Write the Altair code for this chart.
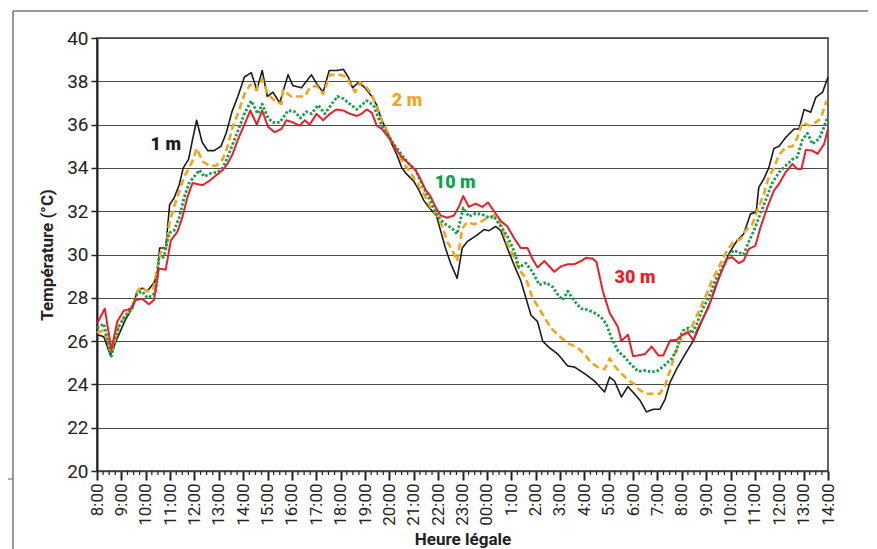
import altair as alt
import pandas as pd
import numpy as np

# hours since 8:00 (x), temperature in degC (y)
t_1m = [0.0, 0.28, 0.55, 0.82, 1.17, 1.44, 1.65, 1.86, 2.06, 2.34, 2.48, 2.57, 2.82, 2.98, 3.16, 3.37,
        3.54, 3.76, 3.92, 4.09, 4.31, 4.54, 4.81, 5.09, 5.30, 5.54, 5.78, 6.05, 6.33, 6.56, 6.78, 6.99,
        7.22, 7.50, 7.84, 8.04, 8.39, 8.80, 9.01, 9.28, 9.53, 9.83, 10.11, 10.31, 10.49, 10.73, 11.0,
        11.28, 11.48, 11.69, 11.9, 12.1, 12.31, 12.51, 12.72, 12.99, 13.2, 13.41, 13.68, 13.93, 14.1,
        14.3, 14.51, 14.78, 14.99, 15.2, 15.6, 15.88, 16.09, 16.36, 16.57, 16.84, 17.12, 17.39, 17.6,
        17.81, 18.08, 18.29, 18.56, 18.91, 19.32, 19.6, 20.01, 20.42, 20.83, 21.04, 21.24, 21.52, 21.79,
        22.07, 22.28, 22.55, 22.83, 23.1, 23.31, 23.52, 23.79, 24.14, 24.48, 24.89, 25.24, 25.58, 25.93,
        26.27, 26.54, 26.82, 27.05, 27.16, 27.37, 27.57, 27.78, 27.99, 28.26, 28.61, 28.81, 29.02, 29.29,
        29.5, 29.78, 30.0]
v_1m = [26.3, 26.2, 25.35, 26.1, 27.0, 27.5, 28.3, 28.45, 28.3, 28.7, 29.1, 30.3, 30.3, 32.3, 32.6, 33.2,
        34.0, 34.4, 35.3, 36.2, 35.2, 34.8, 34.8, 35.0, 35.6, 36.6, 37.3, 38.2, 38.4, 37.6, 38.5, 37.3,
        37.5, 37.0, 38.3, 37.8, 37.7, 38.3, 37.9, 37.5, 38.5, 38.5, 38.55, 38.2, 37.7, 37.95, 37.7,
        37.3, 36.9, 36.2, 35.7, 35.1, 34.6, 34.0, 33.7, 33.4, 33.0, 32.5, 32.1, 31.8, 31.1,
        30.3, 29.6, 28.9, 30.3, 30.6, 30.9, 31.15, 31.1, 31.3, 31.1, 30.3, 29.5, 28.8, 28.0,
        27.2, 26.9, 26.0, 25.7, 25.4, 24.85, 24.8, 24.5, 24.15, 23.65, 24.34, 24.15, 23.42, 23.9,
        23.55, 23.27, 22.73, 22.85, 22.85, 23.3, 24.1, 24.72, 25.4, 26.03, 27.1, 28.0, 29.1, 30.03,
        30.65, 30.95, 31.88, 31.95, 33.1, 33.5, 34.0, 34.9, 35.0, 35.4, 35.8, 35.8, 36.7, 36.57,
        37.26, 37.5, 38.2]

t_2m = [0.0, 0.28, 0.59, 0.89, 1.17, 1.44, 1.65, 1.82, 2.06, 2.3, 2.48, 2.61, 2.82, 2.96, 3.16, 3.37,
        3.58, 3.78, 3.95, 4.09, 4.33, 4.61, 4.88, 5.16, 5.36, 5.57, 5.78, 6.05, 6.29, 6.53, 6.78, 7.02,
        7.29, 7.57, 7.63, 7.97, 8.53, 8.73, 9.01, 9.28, 9.56, 9.97, 10.24, 10.38, 10.59, 10.79, 11.0,
        11.28, 11.48, 11.69, 11.9, 12.1, 12.31, 12.58, 12.86, 13.13, 13.41, 13.68, 13.96, 14.17, 14.37,
        14.58, 14.78, 14.99, 15.19, 15.47, 15.74, 16.02, 16.29, 16.57, 16.84, 17.12, 17.32, 17.6, 17.87,
        18.15, 18.36, 18.63, 18.91, 19.32, 19.73, 20.08, 20.28, 20.56, 20.83, 21.04, 21.24, 21.52, 21.8,
        22.07, 22.21, 22.49, 22.83, 23.1, 23.31, 23.52, 23.72, 23.93, 24.14, 24.41, 24.75, 25.03, 25.24,
        25.51, 25.86, 26.13, 26.41, 26.61, 26.89, 27.16, 27.37, 27.57, 27.78, 27.99, 28.26, 28.54, 28.74,
        28.95, 29.23, 29.5, 29.71, 29.94]
v_2m = [26.4, 26.5, 25.4, 26.7, 27.2, 27.5, 28.3, 28.5, 28.3, 28.35, 29.4, 30.1, 30.2, 31.4, 32.2, 32.9,
        33.6, 34.0, 34.4, 34.9, 34.3, 34.1, 34.1, 34.4, 35.0, 35.9, 36.5, 37.4, 37.85, 37.6, 38.1, 37.4,
        37.1, 36.95, 37.6, 37.3, 37.3, 37.7, 37.8, 37.4, 38.3, 38.3, 38.2, 37.9, 37.5, 37.95, 37.8,
        37.4, 36.8, 36.2, 35.7, 35.2, 34.8, 34.2, 33.8, 33.3, 32.8, 32.2, 31.8, 31.3, 30.6,
        30.2, 29.7, 31.2, 31.5, 31.4, 31.5, 31.7, 31.8, 31.4, 30.5, 29.85, 29.3, 28.9, 28.0,
        27.5, 27.1, 26.6, 26.3, 25.9, 25.7, 25.3, 25.0, 24.8, 24.7, 25.2, 24.85, 24.5, 24.2,
        24.0, 23.8, 23.57, 23.57, 23.57, 23.95, 24.65, 25.4, 26.0, 26.35, 26.65, 27.5, 28.2, 28.8,
        29.4, 30.2, 30.6, 30.7, 31.1, 31.4, 32.2, 32.8, 33.6, 34.0, 34.6, 34.95, 35.0, 35.4,
        36.1, 35.95, 36.1, 36.3, 37.1]

t_10m = [0.0, 0.28, 0.59, 0.89, 1.17, 1.44, 1.65, 1.86, 2.06, 2.27, 2.41, 2.54, 2.75, 2.96, 3.16, 3.37,
         3.58, 3.78, 3.99, 4.2, 4.4, 4.68, 4.95, 5.16, 5.36, 5.57, 5.78, 6.05, 6.33, 6.6, 6.78, 7.02,
         7.22, 7.5, 7.84, 8.11, 8.35, 8.59, 8.8, 9.08, 9.35, 9.63, 9.87, 10.11, 10.38, 10.66, 10.86,
         11.07, 11.35, 11.55, 11.76, 11.96, 12.17, 12.38, 12.58, 12.79, 13.07, 13.27, 13.48, 13.68, 13.89,
         14.1, 14.3, 14.58, 14.78, 15.03, 15.26, 15.54, 15.81, 16.09, 16.29, 16.57, 16.84, 17.12, 17.32,
         17.6, 17.87, 18.15, 18.43, 18.7, 18.91, 19.11, 19.32, 19.59, 19.87, 20.14, 20.42, 20.69, 20.9,
         21.11, 21.38, 21.66, 21.93, 22.21, 22.49, 22.76, 23.04, 23.31, 23.59, 23.79, 23.93, 24.07, 24.27,
         24.41, 24.62, 24.82, 25.1, 25.37, 25.65, 25.92, 26.13, 26.34, 26.54, 26.75, 26.96, 27.16, 27.44,
         27.71, 27.99, 28.26, 28.54, 28.74, 28.95, 29.16, 29.36, 29.64, 29.84, 30.0]
v_10m = [26.6, 26.8, 25.3, 26.65, 27.2, 27.5, 28.2, 28.3, 28.0, 28.1, 28.3, 29.8, 29.9, 31.0, 31.1, 31.7,
         32.65, 33.3, 33.6, 33.9, 33.6, 33.75, 33.8, 34.0, 34.5, 35.1, 35.7, 36.5, 37.1, 36.5, 36.95, 36.3,
         36.1, 36.1, 36.65, 36.6, 36.3, 36.6, 36.5, 36.9, 36.5, 36.95, 37.3, 37.2, 36.95, 36.7, 36.9,
         37.1, 36.9, 36.3, 35.8, 35.5, 35.1, 34.8, 34.5, 34.2, 33.9, 33.4, 32.9, 32.5, 31.95,
         31.6, 31.4, 31.2, 30.95, 32.15, 31.75, 31.9, 31.85, 31.7, 31.75, 31.3, 30.85, 30.15, 29.4,
         29.6, 29.2, 28.6, 28.7, 28.5, 28.15, 27.9, 28.3, 27.85, 27.5, 27.45, 27.3, 27.1, 26.8,
         26.15, 25.55, 25.25, 24.9, 24.6, 24.65, 24.57, 24.65, 24.9, 25.2, 25.6, 26.2, 26.5, 26.6,
         26.35, 26.8, 27.4, 28.0, 28.8, 29.4, 29.95, 30.2, 30.1, 30.0, 30.6, 31.1, 31.7, 32.5,
         33.3, 33.8, 34.1, 34.4, 34.5, 35.3, 35.6, 35.1, 35.35, 35.9, 36.4]

t_30m = [0.0, 0.32, 0.59, 0.83, 1.1, 1.38, 1.58, 1.86, 2.13, 2.34, 2.54, 2.82, 3.03, 3.3, 3.51, 3.71,
         3.92, 4.33, 4.61, 4.88, 5.16, 5.36, 5.57, 5.78, 6.05, 6.29, 6.56, 6.78, 7.02, 7.29, 7.57, 7.77,
         8.04, 8.32, 8.53, 8.73, 9.01, 9.28, 9.56, 9.83, 10.11, 10.38, 10.66, 10.86, 11.07, 11.28, 11.48,
         11.69, 11.9, 12.1, 12.31, 12.51, 12.79, 13.07, 13.27, 13.48, 13.68, 13.89, 14.1, 14.37, 14.65,
         14.85, 15.03, 15.26, 15.54, 15.81, 16.05, 16.29, 16.57, 16.84, 17.12, 17.39, 17.67, 17.87, 18.08,
         18.36, 18.77, 19.04, 19.32, 19.59, 19.87, 20.08, 20.35, 20.5, 20.76, 21.04, 21.38, 21.52, 21.79,
         22.0, 22.21, 22.49, 22.76, 23.04, 23.24, 23.52, 23.79, 23.99, 24.25, 24.48, 24.62, 24.82, 25.1,
         25.37, 25.65, 25.86, 26.06, 26.34, 26.54, 26.75, 27.02, 27.23, 27.51, 27.78, 27.99, 28.26, 28.54,
         28.74, 28.91, 29.09, 29.36, 29.57, 29.84, 30.0]
v_30m = [26.8, 27.5, 25.6, 26.9, 27.4, 27.5, 27.9, 27.95, 27.7, 27.9, 29.35, 29.3, 30.65, 31.05, 31.75, 32.65,
         33.3, 33.2, 33.4, 33.65, 33.9, 34.2, 34.65, 35.3, 36.0, 36.65, 36.0, 36.65, 35.9, 35.65, 35.8, 36.2,
         36.1, 35.95, 36.2, 36.0, 36.5, 36.2, 36.5, 36.7, 36.65, 36.5, 36.4, 36.5, 36.7, 36.55, 35.95,
         35.8, 35.5, 35.2, 34.8, 34.5, 34.2, 33.9, 33.5, 33.0, 32.7, 32.2, 31.8, 31.7, 31.8,
         32.2, 32.7, 32.2, 32.35, 32.2, 32.4, 32.0, 31.55, 31.3, 30.75, 30.3, 30.3, 29.8, 29.4,
         29.7, 29.2, 29.45, 29.55, 29.55, 29.7, 29.85, 29.8, 29.65, 28.3, 27.3, 26.65, 26.0, 26.3,
         25.3, 25.34, 25.4, 25.75, 25.34, 25.34, 26.03, 26.06, 26.26, 26.4, 26.03, 26.5, 26.95, 27.57,
         28.5, 29.26, 29.8, 29.88, 29.6, 29.72, 30.26, 30.4, 31.26, 32.18, 32.95, 33.26, 33.8, 34.18,
         33.95, 33.95, 34.83, 34.8, 34.65, 35.1, 35.8]

series_names = ["1 m", "2 m", "10 m", "30 m"]
series_colors = ["#1c1c1c", "#f6a31c", "#12a04a", "#ea1f29"]
series_widths = [1.6, 2.6, 2.8, 2.0]
series_dash = [[1, 0], [7, 4], [2.5, 2.0], [1, 0]]
series_t = [t_1m, t_2m, t_10m, t_30m]
series_v = [v_1m, v_2m, v_10m, v_30m]

label_text = ["1 m", "2 m", "10 m", "30 m"]
label_h = [2.82, 12.72, 14.7, 22.08]
label_v = [35.04, 37.07, 33.28, 28.9]

hour_ticks = list(range(0, 31))
temp_ticks = list(range(20, 41, 2))
minor_ticks = [q / 4 for q in range(0, 121) if q % 4 != 0]

W, H = 731, 433
FONT = "Roboto, sans-serif"

xscale = alt.Scale(domain=[0, 30], nice=False, zero=False)
yscale = alt.Scale(domain=[20, 40], nice=False, zero=False)

label_expr = "((8 + datum.value) % 24) == 0 ? '00:00' : ((8 + datum.value) % 24) + ':00'"

x_axis = alt.Axis(values=hour_ticks, labelExpr=label_expr, labelAngle=-90,
                  labelOverlap=False, labelSeparation=0,
                  title="Heure légale", grid=False, tickSize=9, tickColor="#222",
                  tickWidth=2, domainColor="#444", domainWidth=1.5,
                  labelFont=FONT, labelFontSize=17, labelColor="#222", labelPadding=3,
                  titleFont=FONT, titleFontSize=17, titleFontWeight="bold",
                  titleColor="#222", titlePadding=6)
y_axis = alt.Axis(values=temp_ticks, title="Température (°C)", grid=True,
                  labelOverlap=False,
                  gridColor="#4a4a4a", gridWidth=1.2, tickSize=6, tickColor="#222",
                  tickWidth=1.5, domainColor="#222", domainWidth=2,
                  labelFont=FONT, labelFontSize=19, labelColor="#222", labelPadding=3,
                  titleFont=FONT, titleFontSize=17, titleFontWeight="bold",
                  titleColor="#222", titlePadding=10)

layers = []
for name, col, w, d, t, v in zip(series_names, series_colors, series_widths, series_dash, series_t, series_v):
    df = pd.DataFrame({"h": t, "T": v, "s": name})
    ln = alt.Chart(df).mark_line(color=col, strokeWidth=w, strokeDash=d, strokeJoin="round").encode(
        x=alt.X("h:Q", scale=xscale, axis=x_axis),
        y=alt.Y("T:Q", scale=yscale, axis=y_axis),
    )
    layers.append(ln)

minor = alt.Chart(pd.DataFrame({"h": minor_ticks})).mark_rule(color="#222", strokeWidth=1.2).encode(
    x=alt.X("h:Q", scale=xscale, axis=x_axis), y=alt.value(H), y2=alt.value(H + 4)
)

lab_df = pd.DataFrame({"txt": label_text, "h": label_h, "T": label_v, "c": series_colors})
labels = alt.Chart(lab_df).mark_text(font="Roboto, sans-serif", fontSize=18,
                                     fontWeight=900).encode(
    x=alt.X("h:Q", scale=xscale, axis=x_axis), y=alt.Y("T:Q", scale=yscale, axis=y_axis), text="txt:N",
    color=alt.Color("c:N", scale=None)
)

# frame of the original figure (outside the plot area)
frame_top = alt.Chart(pd.DataFrame({"a": [0]})).mark_rule(color="#777", strokeWidth=1.5, clip=False).encode(
    x=alt.value(-84), x2=alt.value(790), y=alt.value(-27))
frame_left = alt.Chart(pd.DataFrame({"a": [0]})).mark_rule(color="#777", strokeWidth=1.5, clip=False).encode(
    x=alt.value(-84), y=alt.value(-27), y2=alt.value(520))
frame_stub = alt.Chart(pd.DataFrame({"a": [0]})).mark_rule(color="#777", strokeWidth=1.2, clip=False).encode(
    x=alt.value(-100), x2=alt.value(-84), y=alt.value(441))

chart = alt.layer(*layers, minor, labels, frame_top, frame_left, frame_stub).properties(
    width=W, height=H,
    autosize=alt.AutoSizeParams(type="none"),
    padding={"left": 89, "top": 30, "right": 40, "bottom": 90},
).configure_view(stroke="#333", strokeWidth=1.5).configure_axisX(labelOverlap=False)

chart.save("out.html", embed_options={"renderer": "svg", "actions": False})
